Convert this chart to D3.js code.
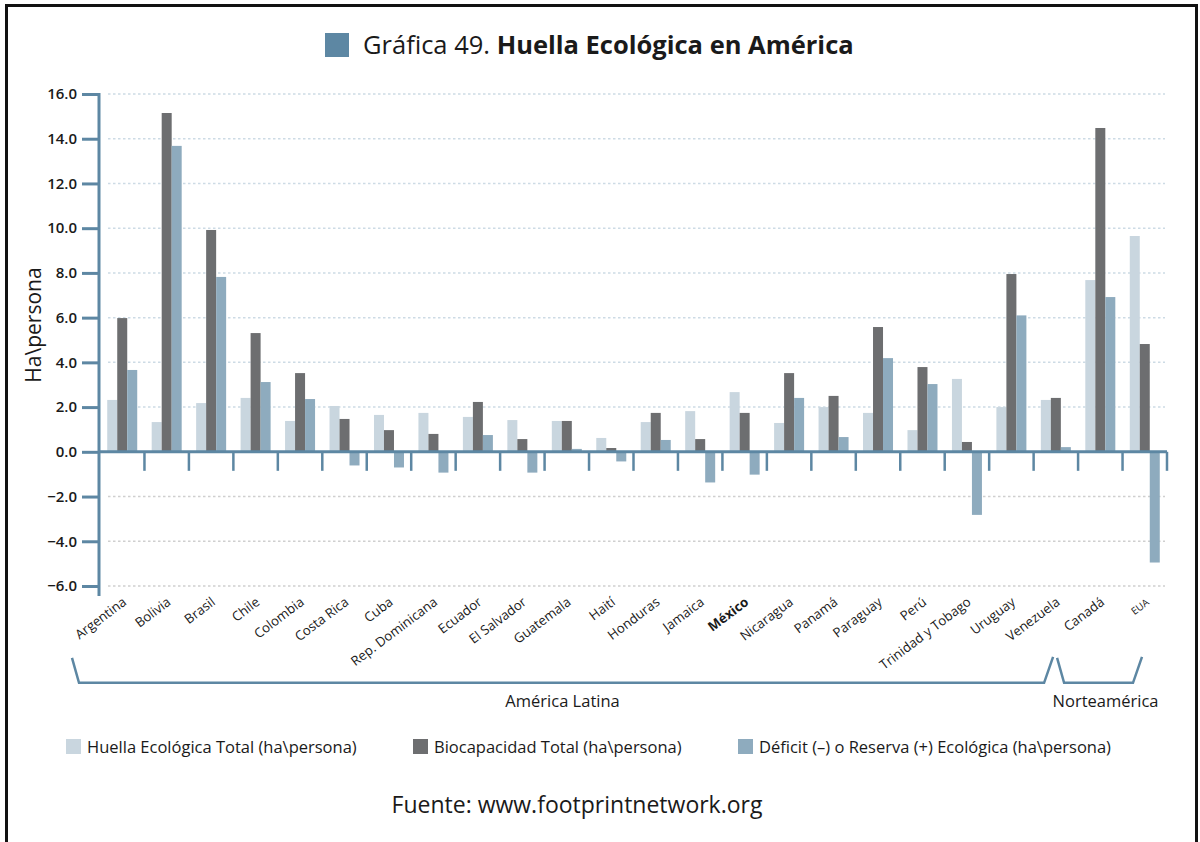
<!DOCTYPE html>
<html>
<head>
<meta charset="utf-8">
<script src="https://cdn.jsdelivr.net/npm/d3@7"></script>
<style>
  body { margin: 0; background: #fff; }
  svg text { font-family: "Open Sans", "Noto Sans", sans-serif; fill: #1a1a1a; }
</style>
</head>
<body>
<svg id="chart" width="1200" height="842"></svg>
<script>
// Ecological footprint, biocapacity and deficit/reserve per country (ha per person)
const countries = ["Argentina", "Bolivia", "Brasil", "Chile", "Colombia", "Costa Rica", "Cuba",
  "Rep. Dominicana", "Ecuador", "El Salvador", "Guatemala", "Haití", "Honduras", "Jamaica",
  "México", "Nicaragua", "Panamá", "Paraguay", "Perú", "Trinidad y Tobago", "Uruguay",
  "Venezuela", "Canadá", "EUA"];
const huella = [2.32, 1.33, 2.18, 2.41, 1.38, 2.05, 1.65, 1.74, 1.56, 1.42, 1.38, 0.62,
  1.33, 1.82, 2.67, 1.29, 2.00, 1.74, 0.97, 3.26, 2.00, 2.32, 7.68, 9.65];
const biocapacidad = [5.98, 15.15, 9.92, 5.31, 3.52, 1.47, 0.97, 0.80, 2.23, 0.57, 1.38, 0.17,
  1.74, 0.57, 1.74, 3.52, 2.50, 5.58, 3.79, 0.44, 7.95, 2.41, 14.48, 4.82];
const deficit = [3.66, 13.68, 7.82, 3.12, 2.36, -0.61, -0.70, -0.93, 0.75, -0.93, 0.13, -0.43,
  0.53, -1.37, -1.02, 2.41, 0.66, 4.19, 3.03, -2.82, 6.10, 0.21, 6.92, -4.95];
const yTicks = [16, 14, 12, 10, 8, 6, 4, 2, 0, -2, -4, -6];
const seriesNames = ["Huella Ecológica Total (ha\\persona)", "Biocapacidad Total (ha\\persona)",
  "Déficit (–) o Reserva (+) Ecológica (ha\\persona)"];
const regionNames = ["América Latina", "Norteamérica"];
const regionFirst = ["Argentina", "Canadá"];
const regionLast = ["Venezuela", "EUA"];
const highlighted = "México";

const colors = ["#c9d6df", "#6d6e70", "#8eabbe"];
const axisColor = "#5d87a3";

const svg = d3.select("#chart");

// frame
svg.append("path")
  .attr("d", "M6.5,842 L6.5,5.5 L1196.5,5.5 L1196.5,842")
  .attr("fill", "none").attr("stroke", "#111").attr("stroke-width", 3);

// title
svg.append("rect").attr("x", 325).attr("y", 33).attr("width", 24).attr("height", 24).attr("fill", axisColor);
const title = svg.append("text").attr("x", 363).attr("y", 54).attr("font-size", 25.5);
title.append("tspan").text("Gráfica 49. ");
title.append("tspan").attr("font-weight", "bold").text("Huella Ecológica en América");

const x = d3.scaleBand().domain(countries).range([100, 1167]);
const y = d3.scaleLinear().domain([-6, 16]).range([586, 94]);
const groupW = 30;
const xs = d3.scaleBand().domain(d3.range(3)).range([0, groupW]);

// gridlines
svg.append("g").selectAll("line").data(yTicks.filter(d => d !== 0)).join("line")
  .attr("x1", 108).attr("x2", 1165)
  .attr("y1", d => y(d)).attr("y2", d => y(d))
  .attr("stroke", d => d > 0 ? "#cddbe5" : "#cfcfcf")
  .attr("stroke-width", 1.5)
  .attr("stroke-dasharray", "2.5,2.5");

// bars
const series = [huella, biocapacidad, deficit];
series.forEach((vals, s) => {
  svg.append("g").selectAll("rect").data(countries).join("rect")
    .attr("x", (c) => x(c) + (x.bandwidth() - groupW) / 2 + xs(s))
    .attr("width", xs.bandwidth())
    .attr("y", (c, i) => y(Math.max(0, vals[i])))
    .attr("height", (c, i) => Math.abs(y(vals[i]) - y(0)))
    .attr("fill", colors[s]);
});

// y axis
const yAxis = d3.axisLeft(y).tickValues(yTicks).tickFormat(d3.format(".1f")).tickSize(17).tickPadding(5);
const gy = svg.append("g").attr("transform", "translate(99,0)").call(yAxis);
gy.select(".domain").attr("d", `M0,${y(16) - 1}V${y(-6) + 10}`).attr("stroke", axisColor).attr("stroke-width", 3);
gy.selectAll(".tick line").attr("stroke", axisColor).attr("stroke-width", 3);
gy.selectAll(".tick text").attr("font-size", 15).attr("font-weight", 600)
  .attr("font-family", "Lato, 'Open Sans', sans-serif").attr("fill", "#1a1a1a");

// zero baseline with separators between countries
svg.append("line").attr("x1", 99).attr("x2", 1167).attr("y1", y(0)).attr("y2", y(0))
  .attr("stroke", axisColor).attr("stroke-width", 3);
svg.append("g").selectAll("line").data(countries).join("line")
  .attr("x1", c => x(c) + x.bandwidth()).attr("x2", c => x(c) + x.bandwidth())
  .attr("y1", y(0)).attr("y2", y(0) + 19)
  .attr("stroke", axisColor).attr("stroke-width", 2.5);

// y axis title
svg.append("text")
  .attr("transform", "translate(41,325) rotate(-90)")
  .attr("text-anchor", "middle").attr("font-size", 21)
  .text("Ha\\persona");

// country labels
svg.append("g").selectAll("text").data(countries).join("text")
  .attr("transform", c => `translate(${x(c) + x.bandwidth() / 2 + 5},${y(0) + 152}) rotate(-37)`)
  .attr("text-anchor", "end")
  .attr("font-size", c => c === "EUA" ? 10 : 13.2)
  .attr("font-weight", c => c === highlighted ? "bold" : "normal")
  .text(c => c);

// region brackets
regionNames.forEach((name, i) => {
  const left = x(regionFirst[i]) - 28 + (i > 0 ? 7 : 0);
  const right = x(regionLast[i]) + x.bandwidth() - 25;
  svg.append("path")
    .attr("d", `M${left},${y(0) + 206}L${left + 7},${y(0) + 231}L${right - 9},${y(0) + 231}L${right},${y(0) + 205}`)
    .attr("fill", "none").attr("stroke", axisColor).attr("stroke-width", 2.5);
  svg.append("text").attr("x", (left + right) / 2 + (i > 0 ? 6 : 0)).attr("y", y(0) + 255)
    .attr("text-anchor", "middle").attr("font-size", 16.5).text(name);
});

// legend
const legendX = [66, 413, 738];
seriesNames.forEach((name, i) => {
  svg.append("rect").attr("x", legendX[i]).attr("y", 739).attr("width", 15).attr("height", 15).attr("fill", colors[i]);
  svg.append("text").attr("x", legendX[i] + 21).attr("y", 753).attr("font-size", 16.5).text(name);
});

// source
svg.append("text").attr("x", 577).attr("y", 813).attr("text-anchor", "middle").attr("font-size", 23)
  .text("Fuente: www.footprintnetwork.org");
</script>
</body>
</html>
